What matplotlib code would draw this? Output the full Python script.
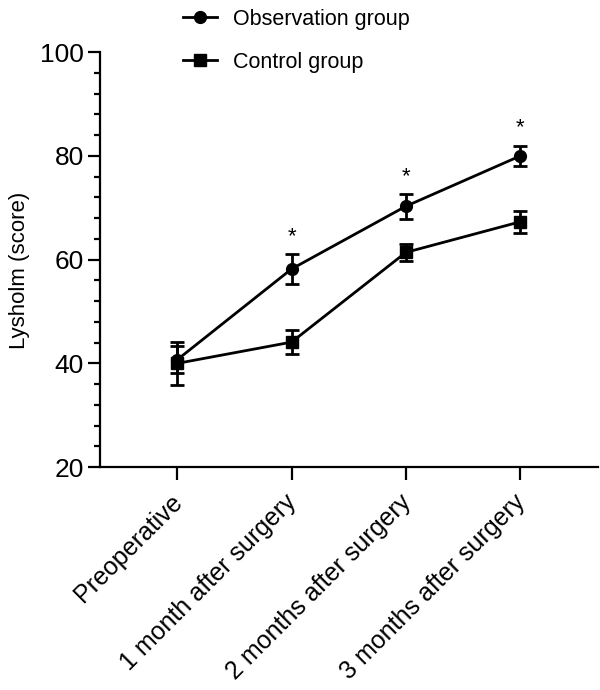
import matplotlib
matplotlib.use("Agg")
import matplotlib.pyplot as plt
import matplotlib.transforms as mtransforms
from matplotlib.ticker import MultipleLocator
from matplotlib.lines import Line2D

plt.rcParams['font.family'] = ['Liberation Sans', 'DejaVu Sans']

categories = ["Preoperative", "1 month after surgery", "2 months after surgery", "3 months after surgery"]
obs_mean = [40.7, 58.2, 70.3, 80.0]
obs_sd = [2.6, 2.8, 2.4, 2.0]
ctrl_mean = [40.0, 44.1, 61.4, 67.3]
ctrl_sd = [4.2, 2.3, 1.6, 2.1]
significant = [False, True, True, True]

fig = plt.figure(figsize=(6, 6.9), dpi=100)
ax = fig.add_axes([0.1667, 0.323, 0.83, 0.6014])

x = list(range(len(categories)))
ax.errorbar(x, obs_mean, yerr=obs_sd, color='black', marker='o', markersize=8.5,
            lw=2, capsize=5, capthick=2, elinewidth=2, zorder=3)
ax.errorbar(x, ctrl_mean, yerr=ctrl_sd, color='black', marker='s', markersize=8,
            lw=2, capsize=5, capthick=2, elinewidth=2, zorder=3)

for xi, m, s, sig in zip(x, obs_mean, obs_sd, significant):
    if sig:
        ax.annotate('*', xy=(xi, m + s), xytext=(0, 5), textcoords='offset points',
                    ha='center', va='bottom', fontsize=16)

ax.set_xlim(-0.675, 3.68)
ax.set_ylim(20, 100)
ax.yaxis.set_major_locator(MultipleLocator(20))
ax.yaxis.set_minor_locator(MultipleLocator(4))
ax.set_xticks(x)
ax.set_xticklabels([])
offset = mtransforms.ScaledTranslation(-0.07, -0.23, fig.dpi_scale_trans)
for xi, cat in zip(x, categories):
    ax.text(xi, 0, cat, transform=ax.get_xaxis_transform() + offset,
            rotation=45, ha='right', va='top', rotation_mode='anchor',
            fontsize=18, clip_on=False)
ax.tick_params(axis='y', which='major', length=8.5, width=1.6, labelsize=19, pad=3)
ax.tick_params(axis='y', which='minor', length=4.5, width=1.6)
ax.tick_params(axis='x', which='major', length=9, width=1.6)
ax.set_ylabel('Lysholm (score)', fontsize=16)
ax.yaxis.set_label_coords(-0.14, 0.475)

for sp in ['top', 'right']:
    ax.spines[sp].set_visible(False)
for sp in ['left', 'bottom']:
    ax.spines[sp].set_linewidth(1.6)

handles = [Line2D([], [], color='black', lw=2, marker='o', markersize=8.5),
           Line2D([], [], color='black', lw=2, marker='s', markersize=8)]
leg = fig.legend(handles=handles, labels=['Observation group', 'Control group'],
                 loc='upper left', bbox_to_anchor=(0.272, 1.015), frameon=False,
                 fontsize=15.5, labelspacing=1.0, handlelength=1.6, handletextpad=0.75)

fig.savefig('out.png', dpi=100)
